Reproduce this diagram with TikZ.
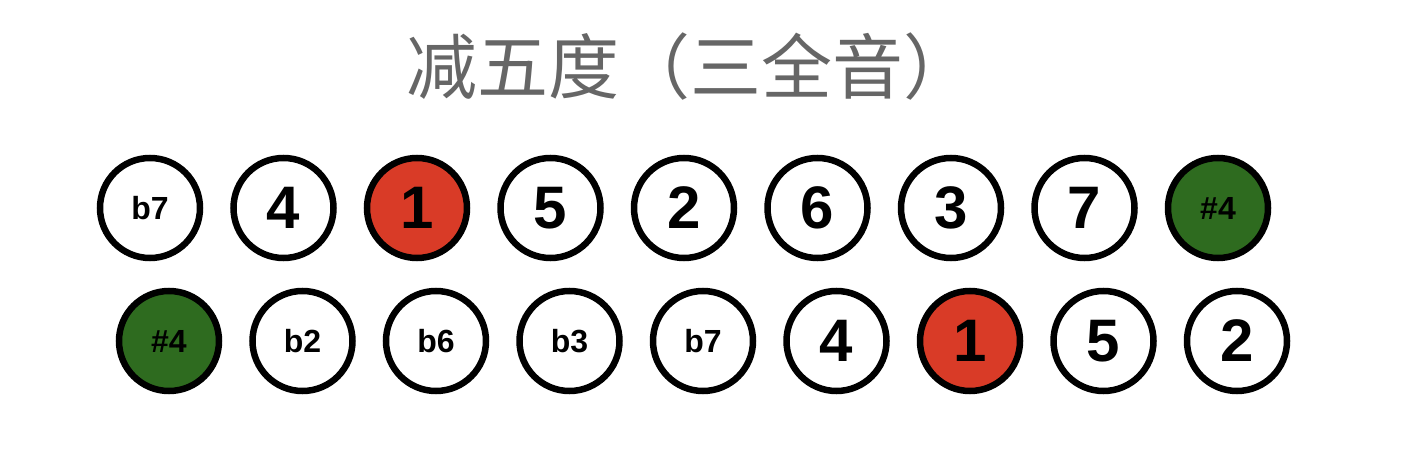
\documentclass[tikz,border=0pt]{standalone}
\usepackage{fontspec}
\setmainfont{Liberation Sans}
\newfontfamily\cjkfont{Noto Sans CJK SC}
\definecolor{notered}{HTML}{D93B27}
\definecolor{notegreen}{HTML}{2E6B1F}
\definecolor{titlegray}{HTML}{666666}
\begin{document}
\begin{tikzpicture}[x=1pt,y=-1pt,
  note/.style={circle,draw=black,line width=6.5pt,minimum size=100pt,inner sep=0pt,fill=white},
  big/.style={font=\fontsize{60}{60}\selectfont\bfseries},
  small/.style={font=\fontsize{32}{32}\selectfont\bfseries},
  rednote/.style={note,fill=notered},
  greennote/.style={note,fill=notegreen}]
\useasboundingbox (0,0) rectangle (1401,454);
\node[text=titlegray,font=\cjkfont\fontsize{71}{71}\selectfont] (title) at (690,67) {减五度（三全音）};
% row 1
\node[note,small] (a1) at (150,208) {b7};
\node[note,big] (a2) at (283.5,208) {4};
\node[rednote,big] (a3) at (417,208) {1};
\node[note,big] (a4) at (550.5,208) {5};
\node[note,big] (a5) at (684,208) {2};
\node[note,big] (a6) at (817.5,208) {6};
\node[note,big] (a7) at (951,208) {3};
\node[note,big] (a8) at (1084.5,208) {7};
\node[greennote,small] (a9) at (1218,208) {\#4};
% row 2
\node[greennote,small] (b1) at (169,341) {\#4};
\node[note,small] (b2) at (302.5,341) {b2};
\node[note,small] (b3) at (436,341) {b6};
\node[note,small] (b4) at (569.5,341) {b3};
\node[note,small] (b5) at (703,341) {b7};
\node[note,big] (b6) at (836.5,341) {4};
\node[rednote,big] (b7) at (970,341) {1};
\node[note,big] (b8) at (1103.5,341) {5};
\node[note,big] (b9) at (1237,341) {2};
\end{tikzpicture}
\end{document}
